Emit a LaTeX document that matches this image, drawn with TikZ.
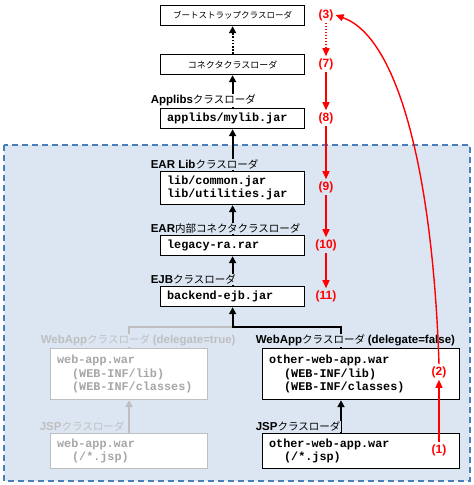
\documentclass[tikz,border=0pt]{standalone}
\usepackage{fontspec}
\setmainfont{Liberation Sans}
\newfontfamily\jpfont{Noto Sans CJK JP}
\newfontfamily\codefont{Liberation Mono}
\usetikzlibrary{arrows.meta}
\definecolor{bgblue}{HTML}{DCE6F2}
\definecolor{dashblue}{HTML}{4A7EBB}
\definecolor{lgray}{HTML}{BFBFBF}
\definecolor{tgray}{HTML}{A6A6A6}
\definecolor{rred}{HTML}{FF0000}
\newcommand{\lbltxt}[2]{{\bfseries\fontsize{11.5}{13}\selectfont #1}{\jpfont\fontsize{10.5}{13}\selectfont #2}}
\newcommand{\ind}{\hspace*{15pt}}
\tikzset{
  box/.style={draw=black, line width=1.2pt, fill=white, anchor=north west,
    inner xsep=6.5pt, inner ysep=0pt, align=left,
    font=\codefont\bfseries\fontsize{11.8}{13.5}\selectfont},
  gbox/.style={box, draw=lgray, text=tgray},
  jpbox/.style={draw=black, line width=1.2pt, fill=white, anchor=north west,
    inner sep=0pt, minimum width=144pt, minimum height=20pt, align=center},
  lbl/.style={anchor=south west, inner sep=0.6pt, text=black},
  num/.style={text=rred, font=\bfseries\fontsize{12}{14}\selectfont, inner sep=2pt},
  blkarr/.style={draw=black, line width=1.8pt, -{Triangle[length=7pt,width=7pt]}},
  grayarr/.style={draw=lgray, line width=1.8pt, -{Triangle[length=7pt,width=7pt]}},
  redarr/.style={draw=rred, line width=1.4pt, -{Triangle[length=8pt,width=7pt]}},
  region/.style={draw=dashblue, fill=bgblue, line width=1.4pt, dash pattern=on 6pt off 4pt},
}
\begin{document}
\begin{tikzpicture}[x=1pt,y=-1pt]
\useasboundingbox (0,0) rectangle (474,485);
% EAR region
\path[region] (4,145) rectangle (470,481);

% boxes
\node[jpbox] (boot) at (160,5) {\jpfont\fontsize{8.5}{10}\selectfont ブートストラップクラスローダ};
\node[jpbox] (conn) at (160,54) {\jpfont\fontsize{9}{10}\selectfont コネクタクラスローダ};
\node[box, text width=131pt, minimum height=20pt] (applibs) at (160,108) {applibs/mylib.jar};
\node[box, text width=131pt, minimum height=33pt] (earlib) at (160,171) {lib/common.jar\\lib/utilities.jar};
\node[box, text width=131pt, minimum height=20pt] (legacy) at (160,235) {legacy-ra.rar};
\node[box, text width=131pt, minimum height=20pt] (ejb) at (160,286) {backend-ejb.jar};
\node[gbox, text width=144pt, minimum height=51pt] (lweb) at (50,348) {web-app.war\\\ind(WEB-INF/lib)\\\ind(WEB-INF/classes)};
\node[gbox, text width=144pt, minimum height=35pt] (ljsp) at (50,433) {web-app.war\\\ind(/*.jsp)};
\node[box, text width=184pt, minimum height=51pt] (rweb) at (262,348) {other-web-app.war\\\ind(WEB-INF/lib)\\\ind(WEB-INF/classes)};
\node[box, text width=184pt, minimum height=35pt] (rjsp) at (262,433) {other-web-app.war\\\ind(/*.jsp)};

% connectors
\coordinate (rj) at (341,327);
\draw[blkarr, dash pattern=on 1.6pt off 1.6pt] (conn.north) -- (boot.south);
\draw[blkarr] (applibs.north) -- (conn.south);
\draw[blkarr] (earlib.north) -- (applibs.south);
\draw[blkarr] (legacy.north) -- (earlib.south);
\draw[blkarr] (ejb.north) -- (legacy.south);
\draw[draw=lgray, line width=1.8pt] (lweb.north) |- (rj -| ejb.south);
\draw[blkarr] (rweb.north -| rj) -- (rj) -| (ejb.south);
\draw[grayarr] (ljsp.north) -- (lweb.south);
\draw[blkarr] (rjsp.north -| rj) -- (rweb.south -| rj);

% labels
\node[lbl, fill=white] (applbl) at ([xshift=-10pt,yshift=1pt]applibs.north west) {\lbltxt{Applibs}{クラスローダ}};
\node[lbl, fill=bgblue] (earlbl) at ([xshift=-10pt,yshift=1pt]earlib.north west) {\lbltxt{EAR Lib}{クラスローダ}};
\node[lbl, fill=bgblue] (leglbl) at ([xshift=-10pt,yshift=1pt]legacy.north west) {\lbltxt{EAR}{内部コネクタクラスローダ}};
\node[lbl, fill=bgblue] (ejblbl) at ([xshift=-10pt,yshift=1pt]ejb.north west) {\lbltxt{EJB}{クラスローダ}};
\node[lbl, fill=bgblue, text=lgray] (lweblbl) at ([xshift=-10pt,yshift=1pt]lweb.north west) {\lbltxt{WebApp}{クラスローダ} {\bfseries\fontsize{11.5}{13}\selectfont(delegate=true)}};
\node[lbl, fill=bgblue, text=lgray] (ljsplbl) at ([xshift=-11pt,yshift=1pt]ljsp.north west) {\lbltxt{JSP}{クラスローダ}};
\node[lbl, fill=bgblue] (rweblbl) at ([xshift=-7pt,yshift=1pt]rweb.north west) {\lbltxt{WebApp}{クラスローダ} {\bfseries\fontsize{11.5}{13}\selectfont(delegate=false)}};
\node[lbl, fill=bgblue] (rjsplbl) at ([xshift=-7pt,yshift=1pt]rjsp.north west) {\lbltxt{JSP}{クラスローダ}};

% red numbers
\node[num] (n3) at (326,15) {(3)};
\node[num] (n7) at (326,64) {(7)};
\node[num] (n8) at (326,118) {(8)};
\node[num] (n9) at (326,187) {(9)};
\node[num] (n10) at (326,245) {(10)};
\node[num] (n11) at (326,296) {(11)};
\node[num] (n2) at (439,372) {(2)};
\node[num] (n1) at (439,450) {(1)};

\draw[redarr, dash pattern=on 1.5pt off 1.5pt] (n3) -- (n7);
\draw[redarr] (n7) -- (n8);
\draw[redarr] (n8) -- (n9);
\draw[redarr] (n9) -- (n10);
\draw[redarr] (n10) -- (n11);
\draw[redarr] (n1) -- (n2);
\draw[redarr] (n2.north) .. controls (433,180) and (400,38) .. (n3.east);
\end{tikzpicture}
\end{document}
